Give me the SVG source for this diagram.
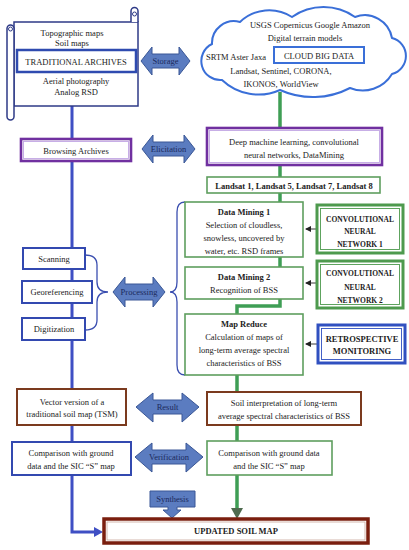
<svg xmlns="http://www.w3.org/2000/svg" width="409" height="550" viewBox="0 0 409 550">
<defs>
<style>
text{font-family:"Liberation Serif","Times New Roman",serif;font-size:8.5px;fill:#222;text-anchor:middle}
.b{font-weight:bold}
.at{fill:#1b2a5c;font-size:8.5px}
.arrow{fill:#5b7cc0;stroke:#3a5796;stroke-width:1}
.blueline{stroke:#3f4fc4;stroke-width:3;fill:none}
.greenline{stroke:#3f9e55;stroke-width:3.5;fill:none}
.gbox{fill:#fff;stroke:#5e9e5e;stroke-width:1.6}
.bbox{fill:#fff;stroke:#3349b0;stroke-width:2}
.pbox{fill:#fff;stroke:#7030a0;stroke-width:2.6}
.pin{fill:none;stroke:#c2a6e4;stroke-width:0.9}
.brbox{fill:#fff;stroke:#7b3a1e;stroke-width:2}
.brace{fill:none;stroke:#3b4fb0;stroke-width:1.3}
.thin{stroke:#222;stroke-width:0.9}
</style>
<marker id="ah" markerWidth="6" markerHeight="6" refX="5" refY="3" orient="auto" markerUnits="userSpaceOnUse"><path d="M0,0 L6,3 L0,6 Z" fill="#222"/></marker>
</defs>

<g id="connectors">
<path class="blueline" d="M72,106 V139 M72,161 V532 H96"/>
<polygon points="103,532 94,527 94,537" fill="#3f4fc4"/>
<path class="greenline" d="M280,92 V128 M280,165 V177 M280,193 V202 M280,257 V267 M280,299 V306 H237 V314 M237,375 V509"/>
<polygon points="237,519 231,508 243,508" fill="#4f6b4f"/>
<path class="brace" d="M85,255 Q97,255 97,265 V282 Q97,292 108,292 Q97,292 97,302 V320 Q97,330 85,330"/>
<path class="brace" d="M185,202 Q177,202 177,212 V282 Q177,292 170,292 Q177,292 177,302 V365 Q177,375 185,375"/>
<line class="thin" x1="316" y1="229" x2="306" y2="229" marker-end="url(#ah)"/>
<line class="thin" x1="316" y1="283" x2="306" y2="283" marker-end="url(#ah)"/>
<line class="thin" x1="317" y1="344" x2="306" y2="344" marker-end="url(#ah)"/>
</g>

<g id="archives">
<rect x="14" y="22" width="124" height="84" fill="#fff" stroke="#2e3a87" stroke-width="1.5"/>
<path d="M131,22 V11 A3.5,3.5 0 0 1 138,11 V22" fill="#fff" stroke="#2e3a87" stroke-width="1.5"/>
<circle cx="134.5" cy="14" r="2" fill="none" stroke="#2e3a87" stroke-width="1"/>
<rect x="7" y="25" width="7" height="95" rx="3.5" fill="#fff" stroke="#2e3a87" stroke-width="1.5"/>
<circle cx="10.5" cy="29" r="2" fill="none" stroke="#2e3a87" stroke-width="1"/>
<text x="72" y="36">Topographic maps</text>
<text x="72" y="46">Soil maps</text>
<rect x="17" y="50" width="119" height="22" fill="#fff" stroke="#2f4bb0" stroke-width="2.5"/>
<text x="76" y="65">TRADITIONAL ARCHIVES</text>
<text x="76" y="84">Aerial photography</text>
<text x="76" y="95">Analog RSD</text>
</g>

<g id="cloud">
<path d="M212,44 A22,22 0 0 1 240,22 A42,42 0 0 1 292,17 A55,55 0 0 1 355,17 A27.6,27.6 0 0 1 392,38 A18.6,18.6 0 0 1 392,74 A34,34 0 0 1 350,88 A80,80 0 0 1 280,90 A53,53 0 0 1 222,80 A19,19 0 0 1 212,44 Z" fill="#fff" stroke="#3a6fd8" stroke-width="2"/>
<text x="310" y="28">USGS Copernicus Google Amazon</text>
<text x="305" y="41">Digital terrain models</text>
<text x="206" y="60" style="text-anchor:start">SRTM Aster Jaxa</text>
<rect x="274" y="47" width="90" height="16" fill="#fff" stroke="#3a6fd8" stroke-width="2"/>
<text x="319" y="59">CLOUD BIG DATA</text>
<text x="281" y="74">Landsat, Sentinel, CORONA,</text>
<text x="281" y="87">IKONOS, WorldView</text>
</g>

<g id="storage">
<polygon class="arrow" points="141,61 152,47 152,54 179,54 179,47 190,61 179,75 179,68 152,68 152,75"/>
<text class="at" x="165.5" y="64">Storage</text>
</g>

<g id="browsing">
<rect class="pbox" x="21" y="139" width="110" height="22"/>
<rect class="pin" x="23.5" y="141.5" width="105" height="17"/>
<text x="76" y="154">Browsing Archives</text>
</g>

<g id="elicitation">
<polygon class="arrow" points="142,149 153,135 153,142 184,142 184,135 195,149 184,163 184,156 153,156 153,163"/>
<text class="at" x="168.5" y="152">Elicitation</text>
</g>

<g id="deep">
<rect class="pbox" x="207" y="128" width="175" height="37"/>
<rect class="pin" x="209.5" y="130.5" width="170" height="32"/>
<text x="294" y="145">Deep machine learning, convolutional</text>
<text x="294" y="158">neural networks, DataMining</text>
</g>

<g id="landsat">
<rect class="gbox" x="207" y="177" width="173" height="16"/>
<text class="b" x="294" y="189">Landsat 1, Landsat 5, Landsat 7, Landsat 8</text>
</g>

<g id="dm1">
<rect class="gbox" x="185" y="202" width="118" height="55"/>
<text class="b" x="244" y="215">Data Mining 1</text>
<text x="244" y="228">Selection of cloudless,</text>
<text x="244" y="241">snowless, uncovered by</text>
<text x="244" y="254">water, etc. RSD frames</text>
</g>

<g id="dm2">
<rect class="gbox" x="185" y="267" width="118" height="32"/>
<text class="b" x="244" y="280">Data Mining 2</text>
<text x="244" y="293">Recognition of BSS</text>
</g>

<g id="mapreduce">
<rect class="gbox" x="185" y="314" width="118" height="61"/>
<text class="b" x="244" y="327">Map Reduce</text>
<text x="244" y="340">Calculation of maps of</text>
<text x="244" y="353">long-term average spectral</text>
<text x="244" y="366">characteristics of BSS</text>
</g>

<g id="cnn1">
<rect x="317" y="205" width="86" height="48" fill="#fff" stroke="#4e9a4e" stroke-width="3"/>
<rect x="320.5" y="208.5" width="79" height="41" fill="none" stroke="#4e9a4e" stroke-width="0.9"/>
<text class="b" x="360" y="222" style="font-size:7.5px">CONVOLUTIONAL</text>
<text class="b" x="360" y="234" style="font-size:7.5px">NEURAL</text>
<text class="b" x="360" y="247" style="font-size:7.5px">NETWORK 1</text>
</g>

<g id="cnn2">
<rect x="317" y="261" width="86" height="47" fill="#fff" stroke="#4e9a4e" stroke-width="3"/>
<rect x="320.5" y="264.5" width="79" height="40" fill="none" stroke="#4e9a4e" stroke-width="0.9"/>
<text class="b" x="360" y="276" style="font-size:7.5px">CONVOLUTIONAL</text>
<text class="b" x="360" y="290" style="font-size:7.5px">NEURAL</text>
<text class="b" x="360" y="303" style="font-size:7.5px">NETWORK 2</text>
</g>

<g id="retro">
<rect x="318" y="325" width="87" height="38" fill="#fff" stroke="#3050c0" stroke-width="3"/>
<rect x="321.5" y="328.5" width="80" height="31" fill="none" stroke="#3050c0" stroke-width="0.9"/>
<text class="b" x="362" y="342">RETROSPECTIVE</text>
<text class="b" x="362" y="354">MONITORING</text>
</g>

<g id="scanning">
<rect class="bbox" x="23" y="248" width="62" height="21"/>
<text x="54" y="262">Scanning</text>
</g>
<g id="georeferencing">
<rect class="bbox" x="22" y="281" width="70" height="22"/>
<text x="57" y="295">Georeferencing</text>
</g>
<g id="digitization">
<rect class="bbox" x="22" y="318" width="63" height="22"/>
<text x="54" y="332">Digitization</text>
</g>

<g id="processing">
<polygon class="arrow" points="113,292 125,277 125,284 153,284 153,277 165,292 153,307 153,300 125,300 125,307"/>
<text class="at" x="139" y="295">Processing</text>
</g>

<g id="vector">
<rect class="brbox" x="17" y="389" width="109" height="36"/>
<text x="72" y="405">Vector version of a</text>
<text x="72" y="417">traditional soil map (TSM)</text>
</g>

<g id="result">
<polygon class="arrow" points="136,407 153,393 153,400 182,400 182,393 199,407 182,422 182,414 153,414 153,422"/>
<text class="at" x="167.5" y="410">Result</text>
</g>

<g id="soilinterp">
<rect class="brbox" x="207" y="392" width="154" height="33"/>
<text x="284" y="406">Soil interpretation of long-term</text>
<text x="284" y="419">average spectral characteristics of BSS</text>
</g>

<g id="compleft">
<rect class="bbox" x="12" y="442" width="119" height="33"/>
<text x="71" y="456">Comparison with ground</text>
<text x="71" y="469">data and the SIC “S” map</text>
</g>

<g id="verification">
<polygon class="arrow" points="135,457 152,443 152,450 186,450 186,443 203,457 186,472 186,464 152,464 152,472"/>
<text class="at" x="169" y="460">Verification</text>
</g>

<g id="compright">
<rect class="gbox" x="207" y="441" width="125" height="34"/>
<text x="269" y="456">Comparison with ground data</text>
<text x="269" y="469">and the SIC “S” map</text>
</g>

<g id="synthesis">
<path class="arrow" d="M150,491 H195 V507 H177 V510 H181 L172,518 L163,510 H168 V507 H150 Z"/>
<text class="at" x="172.5" y="502">Synthesis</text>
</g>

<g id="updated">
<rect x="104" y="519" width="264" height="24" fill="#fff" stroke="#7a1e0e" stroke-width="3.5"/>
<rect x="107" y="522" width="258" height="18" fill="none" stroke="#c9a59a" stroke-width="0.8"/>
<text class="b" x="236" y="534">UPDATED SOIL MAP</text>
</g>
</svg>
